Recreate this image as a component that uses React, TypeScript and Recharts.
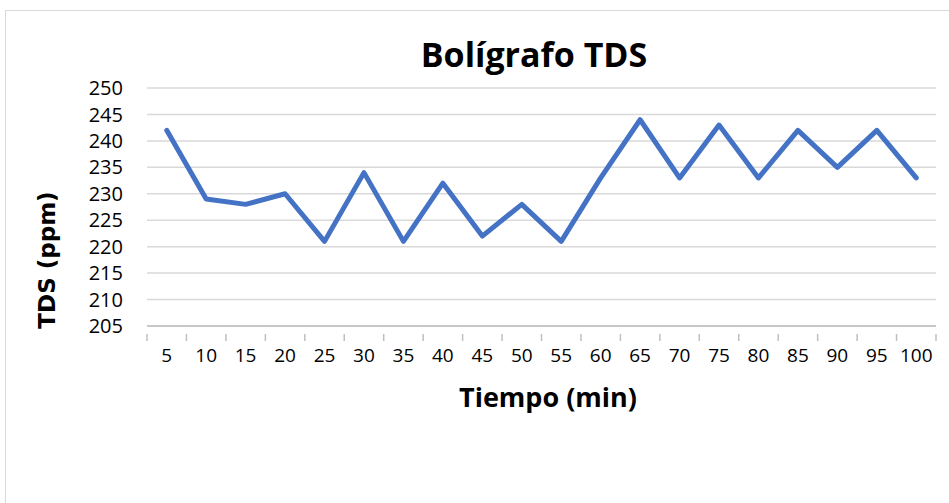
import * as React from 'react'
import { CartesianGrid, Line, LineChart, XAxis, YAxis } from 'recharts'

const tiempo = ['5', '10', '15', '20', '25', '30', '35', '40', '45', '50', '55', '60', '65', '70', '75', '80', '85', '90', '95', '100']
const tds = [242, 229, 228, 230, 221, 234, 221, 232, 222, 228, 221, 233, 244, 233, 243, 233, 242, 235, 242, 233]
const yTicks = [205, 210, 215, 220, 225, 230, 235, 240, 245, 250]

const W = 949
const H = 503
const M = { top: 88, right: 13, bottom: 137, left: 87 }
const Y_W = 60
const X_H = 40
const PLOT_W = W - M.left - M.right - Y_W
const BW = PLOT_W / tiempo.length

const font = "'Open Sans', sans-serif"

function XTick(props: any) {
    const { x, y, payload, index } = props
    const last = index === tiempo.length - 1
    return (
        <g>
            <line x1={x - BW / 2} x2={x - BW / 2} y1={y} y2={y + 7} stroke="#BFBFBF" strokeWidth={1.5} />
            {last && <line x1={x + BW / 2} x2={x + BW / 2} y1={y} y2={y + 7} stroke="#BFBFBF" strokeWidth={1.5} />}
            <text x={x} y={y + 15} dy="0.71em" textAnchor="middle" fontSize={19} fill="#000" fontFamily={font}>
                {payload.value}
            </text>
        </g>
    )
}

export default function App() {
    const data = React.useMemo(() => tiempo.map((t, i) => ({ t, v: tds[i] })), [])

    return (
        <div style={{ position: 'absolute', left: 0, top: 0, width: W, height: H, overflow: 'hidden', background: '#fff' }}>
            <div style={{ position: 'absolute', left: 5, top: 10, width: W + 20, height: H + 20, border: '1.5px solid #D9D9D9' }} />
            <div style={{ position: 'absolute', left: 334, top: 32, width: 400, textAlign: 'center', fontFamily: font, fontWeight: 700, fontSize: 34, lineHeight: '44px', color: '#000' }}>
                Bolígrafo TDS
            </div>
            <div style={{ position: 'absolute', left: 348, top: 380, width: 400, textAlign: 'center', fontFamily: font, fontWeight: 700, fontSize: 27, lineHeight: '34px', color: '#000' }}>
                Tiempo (min)
            </div>
            <div style={{ position: 'absolute', left: 47 - 100, top: 260 - 16, width: 200, textAlign: 'center', transform: 'rotate(-90deg)', fontFamily: "'DejaVu Sans', sans-serif", fontWeight: 700, fontSize: 23, lineHeight: '32px', color: '#000' }}>
                TDS (ppm)
            </div>
            <div style={{ position: 'absolute', left: 0, top: 0 }}>
                <LineChart width={W} height={H} data={data} margin={M}>
                    <CartesianGrid vertical={false} stroke="#D9D9D9" strokeWidth={1.5} />
                    <XAxis
                        dataKey="t"
                        interval={0}
                        height={X_H}
                        padding={{ left: BW / 2, right: BW / 2 }}
                        axisLine={{ stroke: '#BFBFBF', strokeWidth: 1.5 }}
                        tickLine={false}
                        tick={<XTick />}
                    />
                    <YAxis
                        domain={[205, 250]}
                        ticks={yTicks}
                        interval={0}
                        width={Y_W}
                        axisLine={false}
                        tickLine={false}
                        tickSize={0}
                        tickMargin={24}
                        tick={{ fontSize: 20, fill: '#000', fontFamily: font }}
                    />
                    <Line
                        type="linear"
                        dataKey="v"
                        stroke="#4472C4"
                        strokeWidth={5}
                        strokeLinejoin="round"
                        strokeLinecap="round"
                        dot={false}
                        isAnimationActive={false}
                    />
                </LineChart>
            </div>
        </div>
    )
}
